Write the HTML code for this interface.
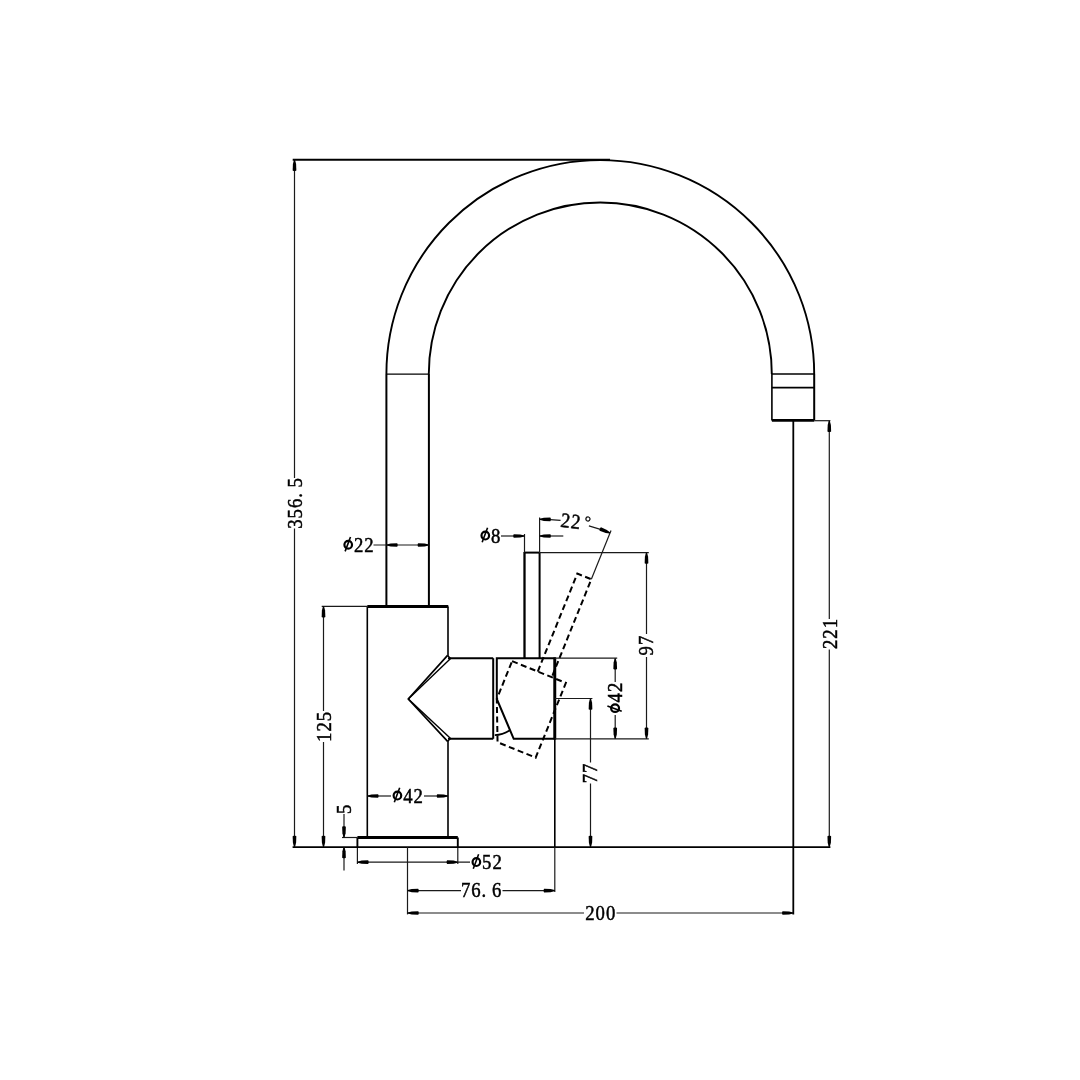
<!DOCTYPE html>
<html><head><meta charset="utf-8"><style>
html,body{margin:0;padding:0;background:#fff;}
svg{display:block;will-change:transform;}
text{font-family:"Liberation Serif",serif;fill:#000;}
</style></head><body>
<svg width="1080" height="1080" viewBox="0 0 1080 1080">
<rect width="1080" height="1080" fill="#fff"/>
<path d="M 386.40 374.0 A 213.9 213.9 0 0 1 814.20 374.0" fill="none" stroke="#000" stroke-width="1.9" />
<path d="M 428.80 374.0 A 171.5 171.5 0 0 1 771.80 374.0" fill="none" stroke="#000" stroke-width="1.9" />
<line x1="386.40" y1="374.00" x2="386.40" y2="606.50" stroke="#000" stroke-width="2.0" />
<line x1="428.90" y1="374.00" x2="428.90" y2="606.50" stroke="#000" stroke-width="2.0" />
<line x1="386.40" y1="374.10" x2="428.90" y2="374.10" stroke="#000" stroke-width="1.4" />
<line x1="771.90" y1="374.00" x2="771.90" y2="420.40" stroke="#000" stroke-width="1.6" />
<line x1="814.20" y1="374.00" x2="814.20" y2="420.40" stroke="#000" stroke-width="2.0" />
<line x1="771.90" y1="374.00" x2="814.20" y2="374.00" stroke="#000" stroke-width="1.6" />
<line x1="771.90" y1="387.60" x2="814.20" y2="387.60" stroke="#000" stroke-width="1.9" />
<line x1="771.90" y1="420.40" x2="814.20" y2="420.40" stroke="#000" stroke-width="2.8" />
<line x1="367.30" y1="606.50" x2="448.30" y2="606.50" stroke="#000" stroke-width="2.8" />
<line x1="367.30" y1="606.50" x2="367.30" y2="837.50" stroke="#000" stroke-width="1.6" />
<line x1="448.00" y1="606.50" x2="448.00" y2="655.70" stroke="#000" stroke-width="1.6" />
<line x1="448.00" y1="741.00" x2="448.00" y2="837.50" stroke="#000" stroke-width="1.6" />
<line x1="357.40" y1="837.50" x2="457.80" y2="837.50" stroke="#000" stroke-width="2.8" />
<line x1="357.40" y1="837.50" x2="357.40" y2="847.00" stroke="#000" stroke-width="1.9" />
<line x1="457.80" y1="837.50" x2="457.80" y2="847.00" stroke="#000" stroke-width="1.9" />
<line x1="357.40" y1="847.00" x2="357.40" y2="864.00" stroke="#1a1a1a" stroke-width="1.2" />
<line x1="457.80" y1="847.00" x2="457.80" y2="864.00" stroke="#1a1a1a" stroke-width="1.2" />
<line x1="292.60" y1="847.10" x2="830.40" y2="847.10" stroke="#000" stroke-width="1.6" />
<polyline points="447.60,655.40 408.30,699.00 447.60,741.30" fill="none" stroke="#000" stroke-width="1.7" stroke-linejoin="miter" />
<line x1="408.30" y1="699.00" x2="450.60" y2="658.40" stroke="#000" stroke-width="1.4" />
<line x1="408.30" y1="699.00" x2="450.60" y2="738.60" stroke="#000" stroke-width="1.4" />
<line x1="447.60" y1="655.40" x2="450.60" y2="658.40" stroke="#000" stroke-width="1.4" />
<line x1="447.60" y1="741.30" x2="450.60" y2="738.60" stroke="#000" stroke-width="1.4" />
<line x1="448.00" y1="658.20" x2="493.20" y2="658.20" stroke="#000" stroke-width="2.0" />
<line x1="448.00" y1="738.80" x2="493.20" y2="738.80" stroke="#000" stroke-width="2.0" />
<line x1="493.20" y1="658.20" x2="493.20" y2="738.80" stroke="#000" stroke-width="2.0" />
<polygon points="496.80,658.20 554.80,658.20 554.80,738.80 513.70,738.80 496.80,699.00" fill="none" stroke="#000" stroke-width="2.0" stroke-linejoin="miter" />
<line x1="554.80" y1="657.50" x2="554.80" y2="739.50" stroke="#000" stroke-width="2.9" />
<line x1="554.80" y1="738.80" x2="554.80" y2="847.00" stroke="#000" stroke-width="1.6" />
<line x1="554.80" y1="847.00" x2="554.80" y2="892.00" stroke="#1a1a1a" stroke-width="1.2" />
<line x1="524.50" y1="552.00" x2="524.50" y2="658.20" stroke="#000" stroke-width="2.3" />
<line x1="539.60" y1="552.60" x2="539.60" y2="658.20" stroke="#000" stroke-width="2.0" />
<line x1="524.50" y1="552.60" x2="539.60" y2="552.60" stroke="#000" stroke-width="2.0" />
<line x1="524.50" y1="534.00" x2="524.50" y2="552.60" stroke="#1a1a1a" stroke-width="1.2" />
<line x1="539.60" y1="517.50" x2="539.60" y2="552.60" stroke="#1a1a1a" stroke-width="1.2" />
<line x1="539.60" y1="552.60" x2="648.80" y2="552.60" stroke="#1a1a1a" stroke-width="1.2" />
<line x1="554.80" y1="658.20" x2="617.20" y2="658.20" stroke="#1a1a1a" stroke-width="1.2" />
<line x1="554.80" y1="738.80" x2="648.80" y2="738.80" stroke="#1a1a1a" stroke-width="1.2" />
<line x1="554.80" y1="698.50" x2="592.40" y2="698.50" stroke="#1a1a1a" stroke-width="1.2" />
<polygon points="512.08,661.17 565.86,682.90 535.67,757.63 497.56,742.23 496.80,699.00" fill="none" stroke="#000" stroke-width="2.0" stroke-linejoin="miter" stroke-dasharray="6,3.5"/>
<polyline points="537.77,671.55 577.33,573.64 591.33,579.29 551.77,677.20" fill="none" stroke="#000" stroke-width="2.0" stroke-linejoin="miter" stroke-dasharray="6,3.5"/>
<line x1="591.33" y1="579.29" x2="611.03" y2="530.52" stroke="#1a1a1a" stroke-width="1.2" />
<path d="M 494.8 735.1 Q 502.5 734.8 509.9 730.2" fill="none" stroke="#000" stroke-width="1.7" />
<line x1="292.70" y1="159.70" x2="610.00" y2="159.70" stroke="#000" stroke-width="1.9" />
<line x1="294.50" y1="159.70" x2="294.50" y2="478.00" stroke="#1a1a1a" stroke-width="1.2" />
<line x1="294.50" y1="528.50" x2="294.50" y2="847.00" stroke="#1a1a1a" stroke-width="1.2" />
<polygon points="295.00,159.90 296.10,163.90 296.35,170.40 295.40,170.90 293.60,170.90 292.65,170.40 292.90,163.90 294.00,159.90" fill="#000"/>
<polygon points="294.00,846.80 292.90,842.80 292.65,836.30 293.60,835.80 295.40,835.80 296.35,836.30 296.10,842.80 295.00,846.80" fill="#000"/>
<g transform="rotate(-90 294.70 503.30)"><text x="268.71" y="510.18" font-size="20.8" stroke="#000" stroke-width="0.5" transform="matrix(0.9,0,0,1,27.391,0)">3</text><text x="279.11" y="510.18" font-size="20.8" stroke="#000" stroke-width="0.5" transform="matrix(0.9,0,0,1,28.431,0)">5</text><text x="289.51" y="510.18" font-size="20.8" stroke="#000" stroke-width="0.5" transform="matrix(0.9,0,0,1,29.471,0)">6</text><text x="299.91" y="510.18" font-size="20.8" stroke="#000" stroke-width="0.5" transform="matrix(0.9,0,0,1,30.251,0)">.</text><text x="310.10" y="510.18" font-size="20.8" stroke="#000" stroke-width="0.5" transform="matrix(0.9,0,0,1,31.530,0)">5</text></g>
<line x1="321.70" y1="606.30" x2="367.30" y2="606.30" stroke="#1a1a1a" stroke-width="1.2" />
<line x1="323.50" y1="606.30" x2="323.50" y2="711.00" stroke="#1a1a1a" stroke-width="1.2" />
<line x1="323.50" y1="742.00" x2="323.50" y2="847.00" stroke="#1a1a1a" stroke-width="1.2" />
<polygon points="324.00,606.50 325.10,610.50 325.35,617.00 324.40,617.50 322.60,617.50 321.65,617.00 321.90,610.50 323.00,606.50" fill="#000"/>
<polygon points="323.00,846.80 321.90,842.80 321.65,836.30 322.60,835.80 324.40,835.80 325.35,836.30 325.10,842.80 324.00,846.80" fill="#000"/>
<g transform="rotate(-90 323.80 726.35)"><text x="307.69" y="733.23" font-size="20.8" stroke="#000" stroke-width="0.5" transform="matrix(0.9,0,0,1,31.289,0)">1</text><text x="318.09" y="733.23" font-size="20.8" stroke="#000" stroke-width="0.5" transform="matrix(0.9,0,0,1,32.329,0)">2</text><text x="328.49" y="733.23" font-size="20.8" stroke="#000" stroke-width="0.5" transform="matrix(0.9,0,0,1,33.369,0)">5</text></g>
<line x1="342.00" y1="837.50" x2="357.40" y2="837.50" stroke="#1a1a1a" stroke-width="1.2" />
<line x1="344.00" y1="814.00" x2="344.00" y2="837.50" stroke="#1a1a1a" stroke-width="1.2" />
<polygon points="343.50,837.30 342.40,833.30 342.15,826.80 343.10,826.30 344.90,826.30 345.85,826.80 345.60,833.30 344.50,837.30" fill="#000"/>
<line x1="344.00" y1="847.00" x2="344.00" y2="870.50" stroke="#1a1a1a" stroke-width="1.2" />
<polygon points="344.50,847.30 345.60,851.30 345.85,857.80 344.90,858.30 343.10,858.30 342.15,857.80 342.40,851.30 343.50,847.30" fill="#000"/>
<g transform="rotate(-90 344.50 809.10)"><text x="339.10" y="815.98" font-size="20.8" stroke="#000" stroke-width="0.5" transform="matrix(0.9,0,0,1,34.430,0)">5</text></g>
<line x1="367.30" y1="796.00" x2="391.00" y2="796.00" stroke="#1a1a1a" stroke-width="1.2" />
<line x1="424.00" y1="796.00" x2="448.00" y2="796.00" stroke="#1a1a1a" stroke-width="1.2" />
<polygon points="367.50,795.50 371.50,794.40 378.00,794.15 378.50,795.10 378.50,796.90 378.00,797.85 371.50,797.60 367.50,796.50" fill="#000"/>
<polygon points="447.80,796.50 443.80,797.60 437.30,797.85 436.80,796.90 436.80,795.10 437.30,794.15 443.80,794.40 447.80,795.50" fill="#000"/>
<g><ellipse cx="397.42" cy="795.53" rx="3.79" ry="3.95" fill="none" stroke="#000" stroke-width="2.2"/><line x1="394.30" y1="802.19" x2="399.70" y2="787.84" stroke="#000" stroke-width="1.6"/><text x="402.62" y="802.83" font-size="20.8" stroke="#000" stroke-width="0.5" transform="matrix(0.9,0,0,1,40.782,0)">4</text><text x="413.02" y="802.83" font-size="20.8" stroke="#000" stroke-width="0.5" transform="matrix(0.9,0,0,1,41.822,0)">2</text></g>
<line x1="373.50" y1="545.00" x2="428.90" y2="545.00" stroke="#1a1a1a" stroke-width="1.2" />
<polygon points="386.60,544.50 390.60,543.40 397.10,543.15 397.60,544.10 397.60,545.90 397.10,546.85 390.60,546.60 386.60,545.50" fill="#000"/>
<polygon points="428.70,545.50 424.70,546.60 418.20,546.85 417.70,545.90 417.70,544.10 418.20,543.15 424.70,543.40 428.70,544.50" fill="#000"/>
<g><ellipse cx="348.22" cy="544.73" rx="3.79" ry="3.95" fill="none" stroke="#000" stroke-width="2.2"/><line x1="345.10" y1="551.39" x2="350.50" y2="537.04" stroke="#000" stroke-width="1.6"/><text x="353.42" y="552.03" font-size="20.8" stroke="#000" stroke-width="0.5" transform="matrix(0.9,0,0,1,35.862,0)">2</text><text x="363.82" y="552.03" font-size="20.8" stroke="#000" stroke-width="0.5" transform="matrix(0.9,0,0,1,36.902,0)">2</text></g>
<line x1="357.40" y1="862.20" x2="470.00" y2="862.20" stroke="#1a1a1a" stroke-width="1.2" />
<polygon points="357.60,861.70 361.60,860.60 368.10,860.35 368.60,861.30 368.60,863.10 368.10,864.05 361.60,863.80 357.60,862.70" fill="#000"/>
<polygon points="457.60,862.70 453.60,863.80 447.10,864.05 446.60,863.10 446.60,861.30 447.10,860.35 453.60,860.60 457.60,861.70" fill="#000"/>
<g><ellipse cx="476.37" cy="862.03" rx="3.79" ry="3.95" fill="none" stroke="#000" stroke-width="2.2"/><line x1="473.25" y1="868.69" x2="478.65" y2="854.34" stroke="#000" stroke-width="1.6"/><text x="481.57" y="869.33" font-size="20.8" stroke="#000" stroke-width="0.5" transform="matrix(0.9,0,0,1,48.677,0)">5</text><text x="491.97" y="869.33" font-size="20.8" stroke="#000" stroke-width="0.5" transform="matrix(0.9,0,0,1,49.717,0)">2</text></g>
<line x1="407.50" y1="847.00" x2="407.50" y2="914.40" stroke="#1a1a1a" stroke-width="1.2" />
<line x1="407.50" y1="890.60" x2="461.00" y2="890.60" stroke="#1a1a1a" stroke-width="1.2" />
<line x1="502.50" y1="890.60" x2="555.00" y2="890.60" stroke="#1a1a1a" stroke-width="1.2" />
<polygon points="407.70,890.10 411.70,889.00 418.20,888.75 418.70,889.70 418.70,891.50 418.20,892.45 411.70,892.20 407.70,891.10" fill="#000"/>
<polygon points="554.60,891.10 550.60,892.20 544.10,892.45 543.60,891.50 543.60,889.70 544.10,888.75 550.60,889.00 554.60,890.10" fill="#000"/>
<g><text x="460.43" y="897.33" font-size="20.8" stroke="#000" stroke-width="0.5" transform="matrix(0.9,0,0,1,46.563,0)">7</text><text x="470.83" y="897.33" font-size="20.8" stroke="#000" stroke-width="0.5" transform="matrix(0.9,0,0,1,47.603,0)">6</text><text x="481.23" y="897.33" font-size="20.8" stroke="#000" stroke-width="0.5" transform="matrix(0.9,0,0,1,48.383,0)">.</text><text x="491.42" y="897.33" font-size="20.8" stroke="#000" stroke-width="0.5" transform="matrix(0.9,0,0,1,49.662,0)">6</text></g>
<line x1="793.30" y1="420.40" x2="793.30" y2="914.40" stroke="#000" stroke-width="1.8" />
<line x1="407.50" y1="913.00" x2="584.00" y2="913.00" stroke="#1a1a1a" stroke-width="1.2" />
<line x1="616.50" y1="913.00" x2="793.30" y2="913.00" stroke="#1a1a1a" stroke-width="1.2" />
<polygon points="407.70,912.50 411.70,911.40 418.20,911.15 418.70,912.10 418.70,913.90 418.20,914.85 411.70,914.60 407.70,913.50" fill="#000"/>
<polygon points="793.10,913.50 789.10,914.60 782.60,914.85 782.10,913.90 782.10,912.10 782.60,911.15 789.10,911.40 793.10,912.50" fill="#000"/>
<g><text x="584.64" y="920.18" font-size="20.8" stroke="#000" stroke-width="0.5" transform="matrix(0.9,0,0,1,58.984,0)">2</text><text x="595.04" y="920.18" font-size="20.8" stroke="#000" stroke-width="0.5" transform="matrix(0.9,0,0,1,60.024,0)">0</text><text x="605.44" y="920.18" font-size="20.8" stroke="#000" stroke-width="0.5" transform="matrix(0.9,0,0,1,61.064,0)">0</text></g>
<line x1="814.20" y1="420.70" x2="830.40" y2="420.70" stroke="#1a1a1a" stroke-width="1.2" />
<line x1="829.30" y1="420.70" x2="829.30" y2="619.00" stroke="#1a1a1a" stroke-width="1.2" />
<line x1="829.30" y1="649.50" x2="829.30" y2="847.00" stroke="#1a1a1a" stroke-width="1.2" />
<polygon points="829.80,420.90 830.90,424.90 831.15,431.40 830.20,431.90 828.40,431.90 827.45,431.40 827.70,424.90 828.80,420.90" fill="#000"/>
<polygon points="828.80,846.80 827.70,842.80 827.45,836.30 828.40,835.80 830.20,835.80 831.15,836.30 830.90,842.80 829.80,846.80" fill="#000"/>
<g transform="rotate(-90 829.70 634.15)"><text x="814.27" y="641.03" font-size="20.8" stroke="#000" stroke-width="0.5" transform="matrix(0.9,0,0,1,81.947,0)">2</text><text x="824.67" y="641.03" font-size="20.8" stroke="#000" stroke-width="0.5" transform="matrix(0.9,0,0,1,82.987,0)">2</text><text x="835.07" y="641.03" font-size="20.8" stroke="#000" stroke-width="0.5" transform="matrix(0.9,0,0,1,84.027,0)">1</text></g>
<line x1="590.50" y1="698.50" x2="590.50" y2="762.50" stroke="#1a1a1a" stroke-width="1.2" />
<line x1="590.50" y1="783.50" x2="590.50" y2="847.00" stroke="#1a1a1a" stroke-width="1.2" />
<polygon points="591.00,698.70 592.10,702.70 592.35,709.20 591.40,709.70 589.60,709.70 588.65,709.20 588.90,702.70 590.00,698.70" fill="#000"/>
<polygon points="590.00,846.80 588.90,842.80 588.65,836.30 589.60,835.80 591.40,835.80 592.35,836.30 592.10,842.80 591.00,846.80" fill="#000"/>
<g transform="rotate(-90 590.50 773.00)"><text x="579.71" y="779.88" font-size="20.8" stroke="#000" stroke-width="0.5" transform="matrix(0.9,0,0,1,58.491,0)">7</text><text x="590.11" y="779.88" font-size="20.8" stroke="#000" stroke-width="0.5" transform="matrix(0.9,0,0,1,59.531,0)">7</text></g>
<line x1="615.20" y1="658.20" x2="615.20" y2="682.00" stroke="#1a1a1a" stroke-width="1.2" />
<line x1="615.20" y1="715.00" x2="615.20" y2="738.80" stroke="#1a1a1a" stroke-width="1.2" />
<polygon points="615.70,658.40 616.80,662.40 617.05,668.90 616.10,669.40 614.30,669.40 613.35,668.90 613.60,662.40 614.70,658.40" fill="#000"/>
<polygon points="614.70,738.60 613.60,734.60 613.35,728.10 614.30,727.60 616.10,727.60 617.05,728.10 616.80,734.60 615.70,738.60" fill="#000"/>
<g transform="rotate(-90 615.50 698.15)"><ellipse cx="605.47" cy="697.73" rx="3.79" ry="3.95" fill="none" stroke="#000" stroke-width="2.2"/><line x1="602.35" y1="704.39" x2="607.75" y2="690.04" stroke="#000" stroke-width="1.6"/><text x="610.67" y="705.03" font-size="20.8" stroke="#000" stroke-width="0.5" transform="matrix(0.9,0,0,1,61.587,0)">4</text><text x="621.07" y="705.03" font-size="20.8" stroke="#000" stroke-width="0.5" transform="matrix(0.9,0,0,1,62.627,0)">2</text></g>
<line x1="646.50" y1="552.60" x2="646.50" y2="634.00" stroke="#1a1a1a" stroke-width="1.2" />
<line x1="646.50" y1="657.00" x2="646.50" y2="738.80" stroke="#1a1a1a" stroke-width="1.2" />
<polygon points="647.00,552.80 648.10,556.80 648.35,563.30 647.40,563.80 645.60,563.80 644.65,563.30 644.90,556.80 646.00,552.80" fill="#000"/>
<polygon points="646.00,738.60 644.90,734.60 644.65,728.10 645.60,727.60 647.40,727.60 648.35,728.10 648.10,734.60 647.00,738.60" fill="#000"/>
<g transform="rotate(-90 646.35 645.45)"><text x="635.91" y="652.33" font-size="20.8" stroke="#000" stroke-width="0.5" transform="matrix(0.9,0,0,1,64.111,0)">9</text><text x="646.31" y="652.33" font-size="20.8" stroke="#000" stroke-width="0.5" transform="matrix(0.9,0,0,1,65.151,0)">7</text></g>
<line x1="501.00" y1="536.00" x2="524.50" y2="536.00" stroke="#1a1a1a" stroke-width="1.2" />
<polygon points="524.30,536.50 520.30,537.60 513.80,537.85 513.30,536.90 513.30,535.10 513.80,534.15 520.30,534.40 524.30,535.50" fill="#000"/>
<line x1="539.60" y1="536.00" x2="563.30" y2="536.00" stroke="#1a1a1a" stroke-width="1.2" />
<polygon points="539.80,535.50 543.80,534.40 550.30,534.15 550.80,535.10 550.80,536.90 550.30,537.85 543.80,537.60 539.80,536.50" fill="#000"/>
<g><ellipse cx="485.29" cy="535.53" rx="3.79" ry="3.95" fill="none" stroke="#000" stroke-width="2.2"/><line x1="482.17" y1="542.19" x2="487.58" y2="527.84" stroke="#000" stroke-width="1.6"/><text x="490.49" y="542.83" font-size="20.8" stroke="#000" stroke-width="0.5" transform="matrix(0.9,0,0,1,49.569,0)">8</text></g>
<path d="M 539.60 519.30 A 188.0 188.0 0 0 1 560.56 520.47" fill="none" stroke="#1a1a1a" stroke-width="1.2" />
<path d="M 588.89 525.88 A 188.0 188.0 0 0 1 610.03 532.99" fill="none" stroke="#1a1a1a" stroke-width="1.2" />
<polygon points="539.80,518.80 543.80,517.70 550.30,517.45 550.80,518.40 550.80,520.20 550.30,521.15 543.80,520.90 539.80,519.80" fill="#000"/>
<polygon points="609.84,533.45 605.72,532.97 599.60,530.77 599.49,529.70 600.16,528.03 600.98,527.34 606.92,530.01 610.21,532.53" fill="#000"/>
<g transform="rotate(7 575.5 522)"><text x="560.20" y="528.60" font-size="20.8" stroke="#000" stroke-width="0.5" transform="matrix(0.9,0,0,1,56.540,0)">2</text><text x="570.60" y="528.60" font-size="20.8" stroke="#000" stroke-width="0.5" transform="matrix(0.9,0,0,1,57.580,0)">2</text><text x="584.3" y="525.8" font-size="16" stroke="#000" stroke-width="0.35">°</text></g>
</svg></body></html>
